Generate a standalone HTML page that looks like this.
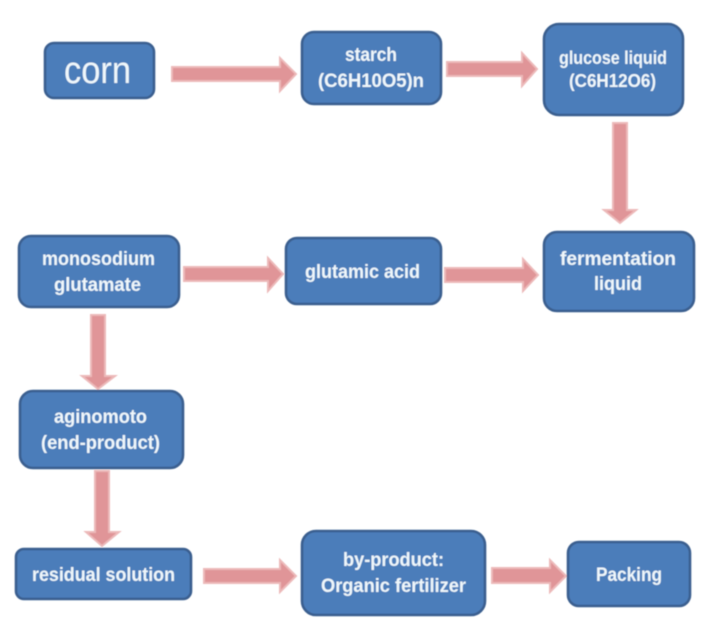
<!DOCTYPE html>
<html>
<head>
<meta charset="utf-8">
<style>
html,body{margin:0;padding:0;background:#fff;width:721px;height:635px;overflow:hidden}
svg{display:block}
.b{fill:#4c7dba;stroke:#3a5f8f;stroke-width:2.6}
.a{fill:#e09598;stroke:#ecb9b9;stroke-width:2;stroke-linejoin:miter}
text{font-family:"Liberation Sans",sans-serif;font-weight:bold;font-size:19px;fill:#eff7fb}
</style>
</head>
<body>
<svg width="721" height="635" viewBox="0 0 721 635" xmlns="http://www.w3.org/2000/svg">
<defs><filter id="s" filterUnits="userSpaceOnUse" x="0" y="0" width="721" height="635"><feGaussianBlur stdDeviation="0.4"/></filter></defs>
<g filter="url(#s)">
<!-- arrows -->
<polygon class="a" points="172,67 280,67 280,58 296,74 280,91 280,81 172,81"/>
<polygon class="a" points="447,62 522,62 522,53 537,69 522,86 522,76 447,76"/>
<polygon class="a" points="613,123 627,123 627,210 636,210 620,223 604,210 613,210"/>
<polygon class="a" points="445,268 523,268 523,259 538,275 523,291 523,282 445,282"/>
<polygon class="a" points="184,267 268,267 268,258 283,274 268,291 268,281 184,281"/>
<polygon class="a" points="91,315 105,315 105,376 115,376 98,389 82,376 91,376"/>
<polygon class="a" points="95,471 109,471 109,532 119,532 102,546 86,532 95,532"/>
<polygon class="a" points="204,569 280,569 280,560 296,576 280,592 280,583 204,583"/>
<polygon class="a" points="492,568 550,568 550,560 566,576 550,592 550,583 492,583"/>
<!-- boxes -->
<rect class="b" x="45" y="43" width="109" height="55" rx="9"/>
<rect class="b" x="302" y="32" width="139" height="72" rx="12"/>
<rect class="b" x="544" y="24" width="139" height="91" rx="15"/>
<rect class="b" x="544" y="232" width="150" height="79" rx="13"/>
<rect class="b" x="19" y="236" width="160" height="71" rx="12"/>
<rect class="b" x="286" y="238" width="155" height="66" rx="11"/>
<rect class="b" x="20" y="391" width="163" height="77" rx="13"/>
<rect class="b" x="16" y="549" width="175" height="50" rx="8"/>
<rect class="b" x="302" y="531" width="183" height="84" rx="14"/>
<rect class="b" x="568" y="542" width="122" height="64" rx="11"/>
<!-- labels -->
<text x="64" y="83" textLength="67" lengthAdjust="spacingAndGlyphs" style="font-size:38px;font-weight:normal">corn</text>
<text x="345" y="61" textLength="52" lengthAdjust="spacingAndGlyphs">starch</text>
<text x="318" y="87" textLength="106" lengthAdjust="spacingAndGlyphs">(C6H10O5)n</text>
<text x="559" y="64" textLength="108" lengthAdjust="spacingAndGlyphs" style="font-size:18px">glucose liquid</text>
<text x="569" y="87" textLength="87" lengthAdjust="spacingAndGlyphs" style="font-size:18px">(C6H12O6)</text>
<text x="560" y="265" textLength="116" lengthAdjust="spacingAndGlyphs">fermentation</text>
<text x="594" y="290" textLength="48" lengthAdjust="spacingAndGlyphs">liquid</text>
<text x="42" y="265" textLength="113" lengthAdjust="spacingAndGlyphs">monosodium</text>
<text x="54" y="291" textLength="87" lengthAdjust="spacingAndGlyphs">glutamate</text>
<text x="305" y="278" textLength="115" lengthAdjust="spacingAndGlyphs">glutamic acid</text>
<text x="54" y="423" textLength="93" lengthAdjust="spacingAndGlyphs">aginomoto</text>
<text x="41" y="449" textLength="119" lengthAdjust="spacingAndGlyphs">(end-product)</text>
<text x="32" y="581" textLength="143" lengthAdjust="spacingAndGlyphs">residual solution</text>
<text x="343" y="566" textLength="101" lengthAdjust="spacingAndGlyphs">by-product:</text>
<text x="321" y="592" textLength="145" lengthAdjust="spacingAndGlyphs">Organic fertilizer</text>
<text x="596" y="581" textLength="66" lengthAdjust="spacingAndGlyphs">Packing</text>
</g>
</svg>
</body>
</html>
